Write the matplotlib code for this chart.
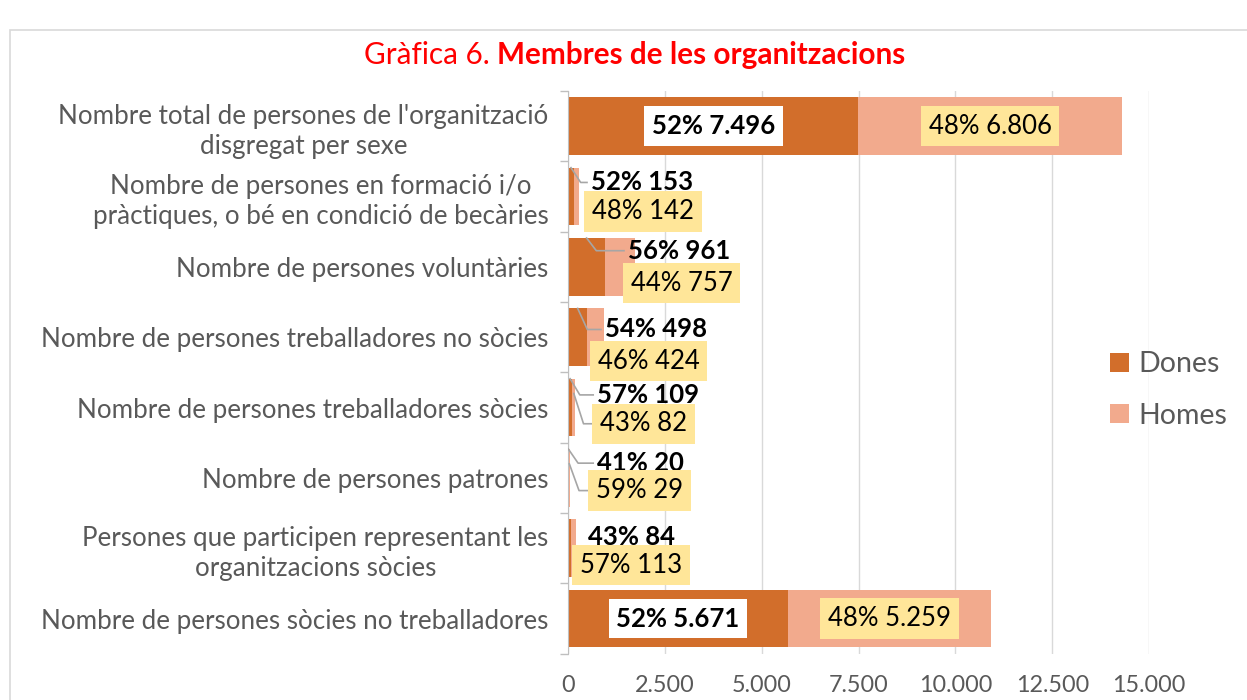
import matplotlib.pyplot as plt
from matplotlib.patches import Rectangle
import numpy as np

plt.rcParams['font.family'] = ['Lato', 'DejaVu Sans']

categories = [
    "Nombre total de persones de l'organització\ndisgregat per sexe",
    "Nombre de persones en formació i/o\npràctiques, o bé en condició de becàries",
    "Nombre de persones voluntàries",
    "Nombre de persones treballadores no sòcies",
    "Nombre de persones treballadores sòcies",
    "Nombre de persones patrones",
    "Persones que participen representant les\norganitzacions sòcies",
    "Nombre de persones sòcies no treballadores",
]
dones = [7496, 153, 961, 498, 109, 20, 84, 5671]
homes = [6806, 142, 757, 424, 82, 29, 113, 5259]
dones_pct = [52, 52, 56, 54, 57, 41, 43, 52]
homes_pct = [48, 48, 44, 46, 43, 59, 57, 48]
xticks = [0, 2500, 5000, 7500, 10000, 12500, 15000]
xtick_labels = ["0", "2.500", "5.000", "7.500", "10.000", "12.500", "15.000"]

c_dones = "#D26E2B"
c_homes = "#F2AA8D"
c_box = "#FFE699"
c_text = "#595959"
c_grid = "#D9D9D9"
c_lead = "#A6A6A6"
fs_lab = 18.5


def fmt(v):
    return f"{v:,}".replace(",", ".")


fig = plt.figure(figsize=(12.47, 7), dpi=100)
ax = fig.add_axes([0.4555, 0.066, 0.466, 0.804])

y = np.arange(len(categories))
h = 0.82
b1 = ax.barh(y, dones, h, color=c_dones, label="Dones", zorder=2)
b2 = ax.barh(y, homes, h, left=dones, color=c_homes, label="Homes", zorder=2)

ax.set_xlim(0, 15000)
ax.set_ylim(len(categories) - 0.5, -0.5)
ax.set_xticks(xticks)
ax.set_xticklabels(xtick_labels)
ax.set_yticks(y)
ax.set_yticklabels(categories, multialignment="center", linespacing=1.25)
ax.set_yticks(np.arange(-0.5, len(categories), 1), minor=True)
ax.tick_params(axis="y", which="major", length=0, pad=14, labelsize=18.7, labelcolor=c_text)
ax.tick_params(axis="y", which="minor", length=6, color="#BFBFBF", width=1)
ax.tick_params(axis="x", length=0, pad=15, labelsize=16.8, labelcolor=c_text)
ax.grid(axis="x", color=c_grid, linewidth=1, zorder=0)
for s in ["top", "right", "bottom"]:
    ax.spines[s].set_visible(False)
ax.spines["left"].set_color("#BFBFBF")

# labels inside the big bars
for i in [0, 7]:
    ax.text(dones[i] / 2, i, f"{dones_pct[i]}% {fmt(dones[i])}", ha="center", va="center",
            fontsize=fs_lab, fontweight="bold", color="black", zorder=4,
            bbox=dict(boxstyle="square,pad=0.3", fc="white", ec="none"))
    ax.text(dones[i] + homes[i] / 2, i, f"{homes_pct[i]}% {fmt(homes[i])}", ha="center",
            va="center", fontsize=fs_lab, color="black", zorder=4,
            bbox=dict(boxstyle="square,pad=0.3", fc=c_box, ec="none"))

# labels outside the small bars: (text x in data units, y offset in rows)
lab_d = {1: (590, -0.2), 2: (1545, -0.23), 3: (950, -0.11), 4: (750, -0.18),
         5: (750, -0.21), 6: (515, -0.16)}
lab_h = {1: (620, 0.21), 2: (1620, 0.23), 3: (770, 0.34), 4: (825, 0.23),
         5: (720, 0.18), 6: (310, 0.24)}
# which leader lines show in the original
lead_d = [1, 2, 3, 4, 5]
lead_h = [4, 5]

for i in range(1, 7):
    xd, dy = lab_d[i]
    if i in lead_d:
        xs = dones[i] / 2
        ax.plot([xs, xs + 250, xd - 100], [i - h / 2, i + dy, i + dy],
                color=c_lead, lw=1.2, zorder=3)
    ax.text(xd, i + dy, f"{dones_pct[i]}% {fmt(dones[i])}", ha="left", va="center",
            fontsize=fs_lab, fontweight="bold", color="black", zorder=4)
    xh, dh = lab_h[i]
    if i in lead_h:
        xm = dones[i] + homes[i] / 2
        ax.plot([xm, xm + 250, xh - 100], [i - 0.2, i + dh, i + dh],
                color=c_lead, lw=1.2, zorder=3)
    ax.text(xh, i + dh, f"{homes_pct[i]}% {fmt(homes[i])}", ha="left", va="center",
            fontsize=fs_lab, color="black", zorder=4,
            bbox=dict(boxstyle="square,pad=0.3", fc=c_box, ec="none"))

fig.legend(handles=[b1, b2], loc="center left", bbox_to_anchor=(0.879, 0.443),
           frameon=False, fontsize=20.5, labelcolor=c_text, handlelength=0.65,
           handleheight=0.65, handletextpad=0.35, labelspacing=0.9, borderpad=0)

t1 = fig.text(0.2915, 0.921, "Gràfica 6. ", ha="left", va="center", fontsize=21.4, color="#FF0000")
ax.annotate("Membres de les organitzacions", xy=(1, 0), xycoords=t1, ha="left", va="bottom",
            fontsize=21.4, fontweight="bold", color="#FF0000", annotation_clip=False)

fig.patches.append(Rectangle((10 / 1247, -0.1), 1.2, 1 - 30 / 700 + 0.1,
                             transform=fig.transFigure, fill=False, ec="#D9D9D9", lw=1.2))

fig.savefig("out.png", dpi=100)
